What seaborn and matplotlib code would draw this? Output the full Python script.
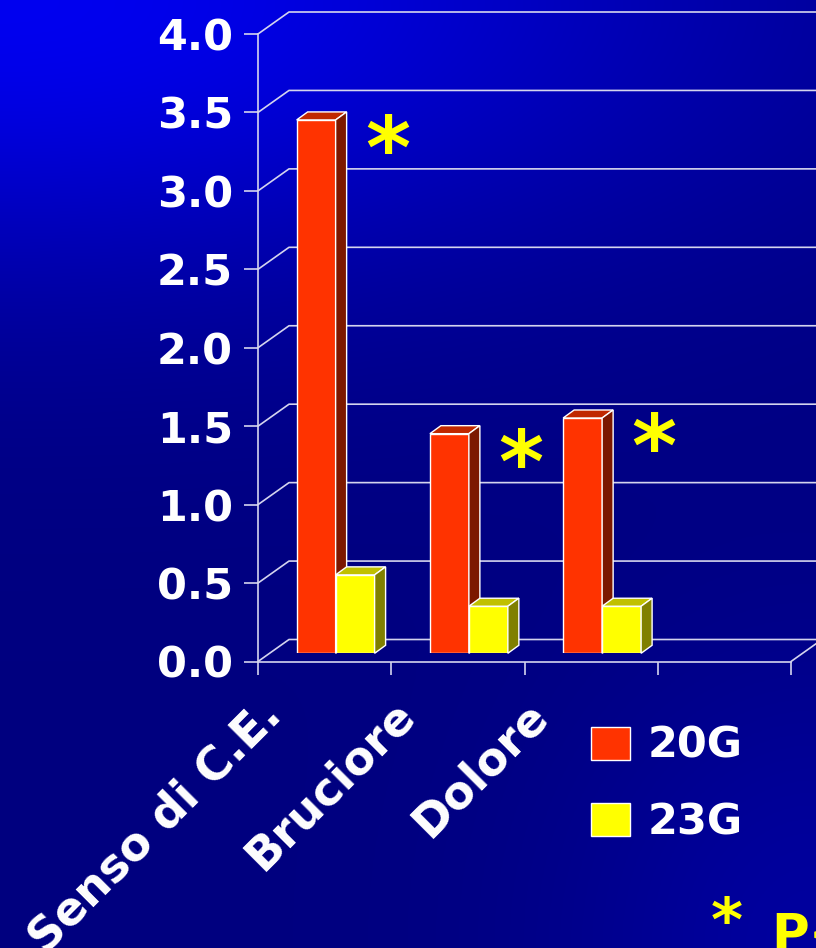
import numpy as np
import pandas as pd
import matplotlib.pyplot as plt
import seaborn as sns
from matplotlib.lines import Line2D
from matplotlib.patches import Polygon
from matplotlib.transforms import IdentityTransform, ScaledTranslation

# --- data ---
categories = ["Senso di C.E.", "Bruciore", "Dolore"]
groups = ["20G", "23G"]
values_20g = [3.4, 1.4, 1.5]
values_23g = [0.5, 0.3, 0.3]
significant = [True, True, True]
y_ticks = [0.0, 0.5, 1.0, 1.5, 2.0, 2.5, 3.0, 3.5, 4.0]
footnote = "P<0.05"

W, H = 816, 948
RED, YELLOW = "#ff3300", "#ffff00"
TOP_COLORS = ["#c02800", "#c0c000"]
SIDE_COLORS = ["#7c1800", "#808000"]
GRID_C = "#d4d4ee"
DEPTH = np.array([31.0, 22.0])      # back wall offset in pixels
BAR_SHIFT = (11.0, 8.2)             # bars sit in the middle of the depth
BAR_DEPTH = np.array([11.0, 8.0])

sns.set_style("white")
plt.rcParams["font.family"] = ["DejaVu Sans"]
plt.rcParams["font.weight"] = "bold"

fig = plt.figure(figsize=(W / 100, H / 100), dpi=100)

# background gradient
bg = fig.add_axes([0, 0, 1, 1], zorder=-10)
xx, yy = np.meshgrid(np.linspace(0, 1, 300), np.linspace(0, 1, 300))
b = (0.5 + 0.44 * np.exp(-(yy / 0.3) ** 2) * np.exp(-(xx / 0.9) ** 2)
     + 0.12 * np.exp(-((1 - xx) ** 2 + (1 - yy) ** 2) / 0.1))
img = np.dstack([np.zeros_like(b), np.zeros_like(b), np.clip(b, 0, 1)])
bg.imshow(img, aspect="auto", extent=[0, 1, 0, 1], origin="upper")
bg.axis("off")


def fig_rect(left, top, right, bottom):
    return [left / W, 1 - bottom / H, (right - left) / W, (bottom - top) / H]


# front frame (axis lines, ticks)
ax = fig.add_axes(fig_rect(258, 34, 791, 661.5))
ax.set_xlim(-0.5, 3.5)
ax.set_ylim(0, 4)
ax.patch.set_visible(False)
for s in ["top", "right"]:
    ax.spines[s].set_visible(False)
for s in ["left", "bottom"]:
    ax.spines[s].set_color(GRID_C)
    ax.spines[s].set_linewidth(1.2)
ax.set_yticks(y_ticks)
ax.set_yticklabels([f"{t:.1f}" for t in y_ticks], fontsize=31,
                   fontweight="bold", color="white")
ax.set_xticks(np.arange(-0.5, 3.6, 1.0))
ax.set_xticklabels([])
ax.tick_params(axis="y", length=10, width=1.2, color=GRID_C, pad=8,
               left=True)
ax.tick_params(axis="x", length=9, width=1.2, color=GRID_C, bottom=True)
ax.grid(False)
ax.set_xlabel("")
ax.set_ylabel("")

ident = IdentityTransform()
to_px = ax.transData.transform

# back wall gridlines with the diagonals on the side wall
for t in y_ticks:
    p0 = to_px((-0.5, t))
    p1 = p0 + DEPTH
    p2 = to_px((3.5, t)) + DEPTH
    ax.add_line(Line2D([p0[0], p1[0], p2[0]], [p0[1], p1[1], p2[1]],
                       transform=ident, color=GRID_C, lw=1.2,
                       clip_on=False, zorder=0.5))
# right edge of the floor
q0 = to_px((3.5, 0))
q1 = q0 + DEPTH
ax.add_line(Line2D([q0[0], q1[0]], [q0[1], q1[1]], transform=ident,
                   color=GRID_C, lw=1.2, clip_on=False, zorder=0.5))

# category labels, rotated
for i, cat in enumerate(categories):
    off = ScaledTranslation(-50 / 100, -47 / 100, fig.dpi_scale_trans)
    ax.text(i, 0, cat, transform=ax.transData + off, rotation=45,
            rotation_mode="anchor", ha="right", va="center",
            fontsize=33, fontweight="bold", color="white")

# bars in the middle depth plane
df = pd.DataFrame({
    "category": categories * 2,
    "group": [groups[0]] * len(categories) + [groups[1]] * len(categories),
    "value": values_20g + values_23g,
})
ax_bar = fig.add_axes(fig_rect(258 + BAR_SHIFT[0], 34 - BAR_SHIFT[1],
                               791 + BAR_SHIFT[0], 661.5 - BAR_SHIFT[1]))
sns.barplot(data=df, x="category", y="value", hue="group",
            hue_order=groups, palette=[RED, YELLOW], saturation=1,
            width=0.585, edgecolor="white", linewidth=1, legend=False,
            ax=ax_bar)
ax_bar.set_xlim(-0.5, 3.5)
ax_bar.set_ylim(0, 4)
ax_bar.axis("off")

to_px_b = ax_bar.transData.transform
for k, cont in enumerate(ax_bar.containers):
    for patch in cont.patches:
        patch.set_zorder(2 + k)
        x0, w, h = patch.get_x(), patch.get_width(), patch.get_height()
        tl = to_px_b((x0, h))
        tr = to_px_b((x0 + w, h))
        br = to_px_b((x0 + w, 0))
        top = Polygon([tl, tr, tr + BAR_DEPTH, tl + BAR_DEPTH],
                      closed=True, facecolor=TOP_COLORS[k],
                      edgecolor="white", lw=1, transform=ident,
                      clip_on=False, zorder=2 + k)
        side = Polygon([br, tr, tr + BAR_DEPTH, br + BAR_DEPTH],
                       closed=True, facecolor=SIDE_COLORS[k],
                       edgecolor="white", lw=1, transform=ident,
                       clip_on=False, zorder=2 + k)
        ax_bar.add_patch(top)
        ax_bar.add_patch(side)

# significance stars
for i, (v, sig) in enumerate(zip(values_20g, significant)):
    if sig:
        ax_bar.text(i + 0.39, v - 0.22, "*", ha="center", va="center",
                    fontsize=62, fontweight="bold", color=YELLOW,
                    zorder=5)

# legend
handles = [cont.patches[0] for cont in ax_bar.containers]
leg = ax_bar.legend(handles, groups, loc="upper left",
                    bbox_to_anchor=(591 / W, 1 - 725 / H),
                    bbox_transform=fig.transFigure, frameon=False,
                    prop={"size": 31, "weight": "bold"}, labelcolor="white",
                    handlelength=0.9, handleheight=0.8, handletextpad=0.42,
                    labelspacing=0.8, borderpad=0, borderaxespad=0)

# footnote (cut off by the slide edge, as in the original slide)
fig.text(727 / W, 1 - 924 / H, "*", ha="center", va="center", fontsize=44,
         fontweight="bold", color=YELLOW)
fig.text(771 / W, 1 - 912 / H, footnote, ha="left", va="top", fontsize=37,
         fontweight="bold", color=YELLOW)

fig.savefig("out.png", dpi=100)
